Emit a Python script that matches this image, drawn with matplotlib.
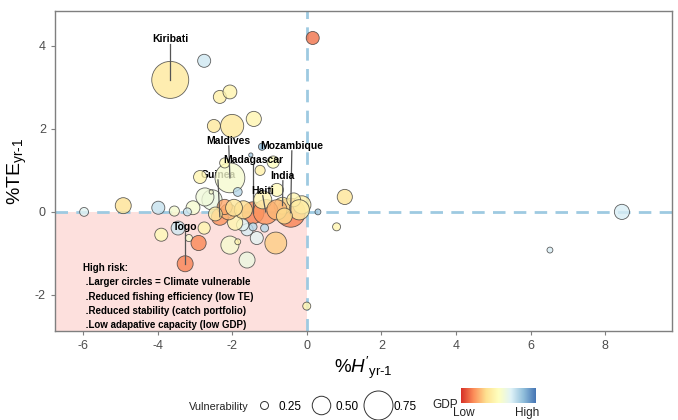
import numpy as np
import matplotlib
matplotlib.use('Agg')
import matplotlib.pyplot as plt
from matplotlib.lines import Line2D
from matplotlib.colors import LinearSegmentedColormap

plt.rcParams['font.family'] = ['Liberation Sans', 'DejaVu Sans']
plt.rcParams['mathtext.fontset'] = 'custom'
plt.rcParams['mathtext.rm'] = 'Liberation Sans'
plt.rcParams['mathtext.it'] = 'Liberation Sans:italic'
plt.rcParams['axes.unicode_minus'] = False

# change in catch diversity (H') and technical efficiency (TE), % per year
h_change = [-3.66, -2.75, 0.16, -2.33, -2.06, -2.49, -2.00, -1.42, -1.20, -2.06,
            -1.44, -0.43, -0.65, -1.10, -2.33, -3.26, -5.97, -4.92, -3.98, -3.55,
            -3.90, -3.45, -3.16, -2.90, -2.75, -1.60, -2.06, -1.85, -1.34, -0.83,
            -1.60, -1.13, -1.44, 0.00, 0.80, 1.02, 0.30, 6.52, 8.45, -2.54,
            -2.73, -0.13, -1.18, -0.80, -1.25, -2.86, -0.90, -2.20, -1.50, -1.85,
            -2.56, -3.05, -3.20, -1.72, -1.92, -0.35, -2.10, -2.20, -1.70, -0.80,
            -0.20, -1.95, -2.45, -0.60]
te_change = [3.18, 3.64, 4.19, 2.77, 2.89, 2.07, 2.07, 2.24, 1.57, 0.82,
             -0.02, -0.02, 0.15, 0.00, -0.12, -1.25, 0.00, 0.15, 0.10, 0.02,
             -0.55, -0.39, -0.63, -0.75, -0.39, -1.16, -0.80, -0.72, -0.63, -0.75,
             -0.43, -0.39, -0.36, -2.27, -0.36, 0.36, 0.00, -0.92, 0.00, 0.29,
             0.36, 0.17, 0.29, 0.53, 1.00, 0.84, 1.20, 1.18, 1.37, 0.48,
             0.48, 0.10, 0.00, -0.31, -0.26, 0.29, 0.00, 0.12, 0.05, 0.05,
             0.05, 0.10, -0.05, -0.10]
vulnerability = [0.94, 0.37, 0.37, 0.37, 0.39, 0.37, 0.61, 0.42, 0.23, 0.77,
                 0.58, 0.75, 0.46, 0.65, 0.46, 0.44, 0.27, 0.44, 0.37, 0.30,
                 0.37, 0.39, 0.23, 0.42, 0.35, 0.44, 0.49, 0.20, 0.37, 0.58,
                 0.35, 0.25, 0.25, 0.25, 0.25, 0.42, 0.20, 0.20, 0.42, 0.54,
                 0.49, 0.49, 0.49, 0.37, 0.30, 0.37, 0.35, 0.30, 0.16, 0.27,
                 0.16, 0.39, 0.25, 0.35, 0.42, 0.39, 0.44, 0.42, 0.49, 0.54,
                 0.54, 0.46, 0.39, 0.44]
gdp = [0.38, 0.70, 0.12, 0.42, 0.44, 0.38, 0.38, 0.45, 0.85, 0.55,
       0.15, 0.15, 0.38, 0.18, 0.18, 0.15, 0.65, 0.35, 0.72, 0.55,
       0.48, 0.70, 0.55, 0.16, 0.45, 0.60, 0.55, 0.45, 0.65, 0.30,
       0.68, 0.75, 0.75, 0.45, 0.45, 0.36, 0.80, 0.68, 0.68, 0.60,
       0.58, 0.42, 0.45, 0.48, 0.42, 0.45, 0.50, 0.48, 0.80, 0.75,
       0.55, 0.55, 0.70, 0.65, 0.45, 0.45, 0.25, 0.22, 0.33, 0.25,
       0.40, 0.36, 0.40, 0.33]

# labelled countries: index into the arrays above, and where the label sits
labels = {
    'Kiribati': (0, -3.66, 4.17),
    'Maldives': (9, -2.09, 1.71),
    'Madagascar': (10, -1.44, 1.25),
    'Mozambique': (11, -0.40, 1.59),
    'India': (12, -0.64, 0.87),
    'Haiti': (13, -1.18, 0.51),
    'Guinea': (14, -2.38, 0.89),
    'Togo': (15, -3.26, -0.36),
}

risk_text = ['High risk:',
             ' .Larger circles = Climate vulnerable',
             ' .Reduced fishing efficiency (low TE)',
             ' .Reduced stability (catch portfolio)',
             ' .Low adapative capacity (low GDP)']


def bubble_size(v):
    # diameter in pixels grows linearly with vulnerability, then to points^2
    d = 42 * np.asarray(v) - 2.5
    return (d * 0.72) ** 2


cmap = LinearSegmentedColormap.from_list(
    'gdp', ['#d73027', '#fc8d59', '#fee090', '#ffffbf', '#e0f3f8',
            '#91bfdb', '#4575b4'])

fig = plt.figure(figsize=(6.78, 4.2), dpi=100)
ax = fig.add_axes([0.0811, 0.2119, 0.9099, 0.7619])

xmin, xmax = -6.75, 9.79
ymin, ymax = -2.87, 4.84
ax.set_xlim(xmin, xmax)
ax.set_ylim(ymin, ymax)

# high risk quadrant
ax.fill_between([xmin, 0], ymin, 0, color='#fde0dd', zorder=0, linewidth=0)
ax.axhline(0, color='#9ecae1', lw=2, ls=(0, (4.5, 3)), zorder=1)
ax.axvline(0, color='#9ecae1', lw=2, ls=(0, (4.5, 3)), zorder=1)

ax.scatter(h_change, te_change, s=bubble_size(vulnerability),
           c=[cmap(g) for g in gdp], alpha=0.8, edgecolors='#3a3a3a',
           linewidths=0.6, zorder=3)

for name, (i, lx, ly) in labels.items():
    ax.plot([lx, h_change[i]], [ly - 0.12, te_change[i]], color='#555555',
            lw=0.9, zorder=4)
    ax.text(lx, ly, name, ha='center', va='center', fontsize=7.5,
            fontweight='bold', color='black',
            zorder=2 if name == 'Guinea' else 5)

line_y = [-1.35, -1.70, -2.04, -2.38, -2.72]
for txt, yy in zip(risk_text, line_y):
    ax.text(-6.0, yy, txt, ha='left', va='center', fontsize=7,
            fontweight='bold', color='black', zorder=5)

ax.set_xticks([-6, -4, -2, 0, 2, 4, 6, 8])
ax.set_yticks([-2, 0, 2, 4])
ax.tick_params(colors='#7f7f7f', labelcolor='#4d4d4d', labelsize=9,
               length=3, width=0.8)
for sp in ax.spines.values():
    sp.set_color('#7f7f7f')
    sp.set_linewidth(1.0)

ax.set_xlabel(r"%$\mathit{H'}_{\text{yr-1}}$", fontsize=13.5, labelpad=2)
ax.set_ylabel(r"%TE$_{\text{yr-1}}$", fontsize=14, labelpad=4)

# size legend
handles = [Line2D([], [], ls='none', marker='o', markerfacecolor='white',
                  markeredgecolor='#333333', markeredgewidth=0.7,
                  markersize=np.sqrt(bubble_size(v)))
           for v in [0.25, 0.50, 0.75]]
fig.legend(handles, ['0.25', '0.50', '0.75'], ncol=3, frameon=False,
           loc='center', bbox_to_anchor=(0.495, 0.032), fontsize=8.5,
           handletextpad=0.5, columnspacing=0.9, handlelength=1.5)
fig.text(189 / 678, 0.031, 'Vulnerability', fontsize=7.8, ha='left',
         va='center', color='#222222')

# GDP colour bar
cax = fig.add_axes([461 / 678, 17 / 420, 75 / 678, 15 / 420])
cax.imshow(np.linspace(0, 1, 256)[None, :], cmap=cmap, aspect='auto')
cax.set_axis_off()
fig.text(432 / 678, 15 / 420, 'GDP', fontsize=8.5, ha='left', va='center',
         color='#222222')
fig.text(464 / 678, 7 / 420, 'Low', fontsize=8.5, ha='center', va='center',
         color='#222222')
fig.text(527 / 678, 7 / 420, 'High', fontsize=8.5, ha='center', va='center',
         color='#222222')

fig.savefig('out.png', dpi=100)
